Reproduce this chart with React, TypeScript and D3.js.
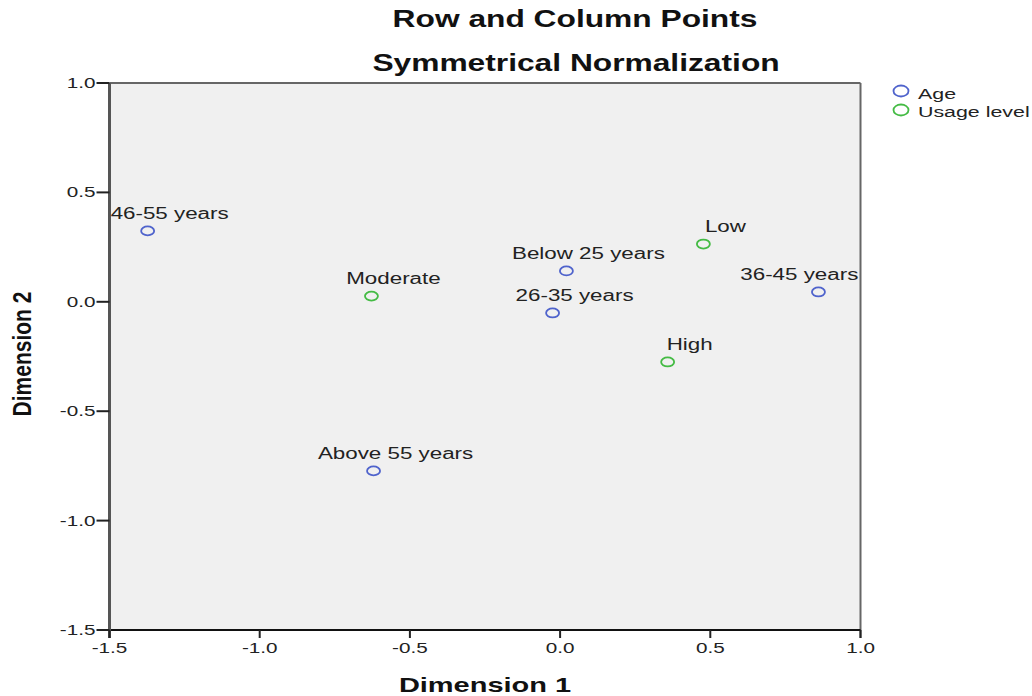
import React from "react";
import * as d3 from "d3";

const ageLabels = ["46-55 years", "Below 25 years", "26-35 years", "36-45 years", "Above 55 years"];
const ageDim1 = [-1.373, 0.021, -0.025, 0.86, -0.621];
const ageDim2 = [0.324, 0.141, -0.051, 0.045, -0.773];

const usageLabels = ["Moderate", "Low", "High"];
const usageDim1 = [-0.628, 0.477, 0.358];
const usageDim2 = [0.026, 0.264, -0.275];

const xTicks = [-1.5, -1.0, -0.5, 0.0, 0.5, 1.0];
const yTicks = [1.0, 0.5, 0.0, -0.5, -1.0, -1.5];

const legendLabels = ["Age", "Usage level"];

const W = 1032;
const H = 696;
const L = 109.5;
const R = 860.5;
const T = 83;
const B = 630;
const SX = 1.38;
const FONT = "Arial, 'Liberation Sans', sans-serif";
const BLUE = "#4f63cc";
const GREEN = "#44bb44";

const fmt = (t: number) => d3.format(".1f")(t).replace("\u2212", "-");

function StretchText(props: any) {
  const { x, y, anchor, size, weight, children, fill } = props;
  return (
    <text
      transform={`translate(${x},${y}) scale(${SX},1)`}
      textAnchor={anchor || "start"}
      fontSize={size}
      fontWeight={weight || "normal"}
      fontFamily={FONT}
      fill={fill || "#222"}
    >
      {children}
    </text>
  );
}

export default function App() {
  const x = d3.scaleLinear().domain([-1.5, 1.0]).range([L, R]);
  const y = d3.scaleLinear().domain([-1.5, 1.0]).range([B, T]);

  const labelW = (s: string) => s.length * 7.8 * SX;

  const points = [
    ...ageLabels.map((l, i) => ({ label: l, d1: ageDim1[i], d2: ageDim2[i], color: BLUE })),
    ...usageLabels.map((l, i) => ({ label: l, d1: usageDim1[i], d2: usageDim2[i], color: GREEN })),
  ];

  return (
    <svg width={W} height={H} style={{ position: "fixed", left: 0, top: 0, background: "#fff" }}>
      <rect x={0} y={0} width={W} height={H} fill="#fff" />
      <rect x={L} y={T} width={R - L} height={B - T} fill="#f0f0f0" />
      <line x1={L} x2={R} y1={T} y2={T} stroke="#666" strokeWidth={2} />
      <line x1={R} x2={R} y1={T} y2={B + 8} stroke="#666" strokeWidth={2} />
      <line x1={L} x2={R} y1={B} y2={B} stroke="#111" strokeWidth={2} />
      <line x1={L} x2={L} y1={T} y2={B + 8} stroke="#555" strokeWidth={3} />

      {yTicks.map((t) => (
        <g key={"y" + t}>
          <line x1={L - 13} x2={L} y1={y(t)} y2={y(t)} stroke="#222" strokeWidth={2} />
          <StretchText x={L - 14} y={y(t) + 5} anchor="end" size={15}>
            {fmt(t)}
          </StretchText>
        </g>
      ))}
      {xTicks.map((t) => (
        <g key={"x" + t}>
          <line x1={x(t)} x2={x(t)} y1={B} y2={B + 8} stroke="#222" strokeWidth={2} />
          <StretchText x={x(t)} y={B + 23} anchor="middle" size={15}>
            {fmt(t)}
          </StretchText>
        </g>
      ))}

      {points.map((p) => {
        const px = x(p.d1);
        const py = y(p.d2);
        const w = labelW(p.label);
        let cx = px + 22;
        if (cx + w / 2 > R - 2) cx = R - 2 - w / 2;
        return (
          <g key={p.label}>
            <ellipse cx={px} cy={py} rx={6.5} ry={4.5} fill="none" stroke={p.color} strokeWidth={1.8} />
            <StretchText x={cx} y={py - 12} anchor="middle" size={16.2}>
              {p.label}
            </StretchText>
          </g>
        );
      })}

      <StretchText x={575} y={27} anchor="middle" size={23} weight="bold" fill="#111">
        Row and Column Points
      </StretchText>
      <StretchText x={576} y={71} anchor="middle" size={23} weight="bold" fill="#111">
        Symmetrical Normalization
      </StretchText>
      <StretchText x={485} y={692} anchor="middle" size={21} weight="bold" fill="#111">
        Dimension 1
      </StretchText>
      <text
        transform={`translate(31,354) rotate(-90) scale(1,1.2)`}
        textAnchor="middle"
        fontSize={21}
        fontWeight="bold"
        fontFamily={FONT}
        fill="#111"
      >
        Dimension 2
      </text>

      {legendLabels.map((l, i) => (
        <g key={l}>
          <ellipse cx={901} cy={91 + i * 19} rx={7.5} ry={5.5} fill="none" stroke={i === 0 ? BLUE : GREEN} strokeWidth={1.8} />
          <StretchText x={918} y={99 + i * 18} size={15.5}>
            {l}
          </StretchText>
        </g>
      ))}
    </svg>
  );
}
